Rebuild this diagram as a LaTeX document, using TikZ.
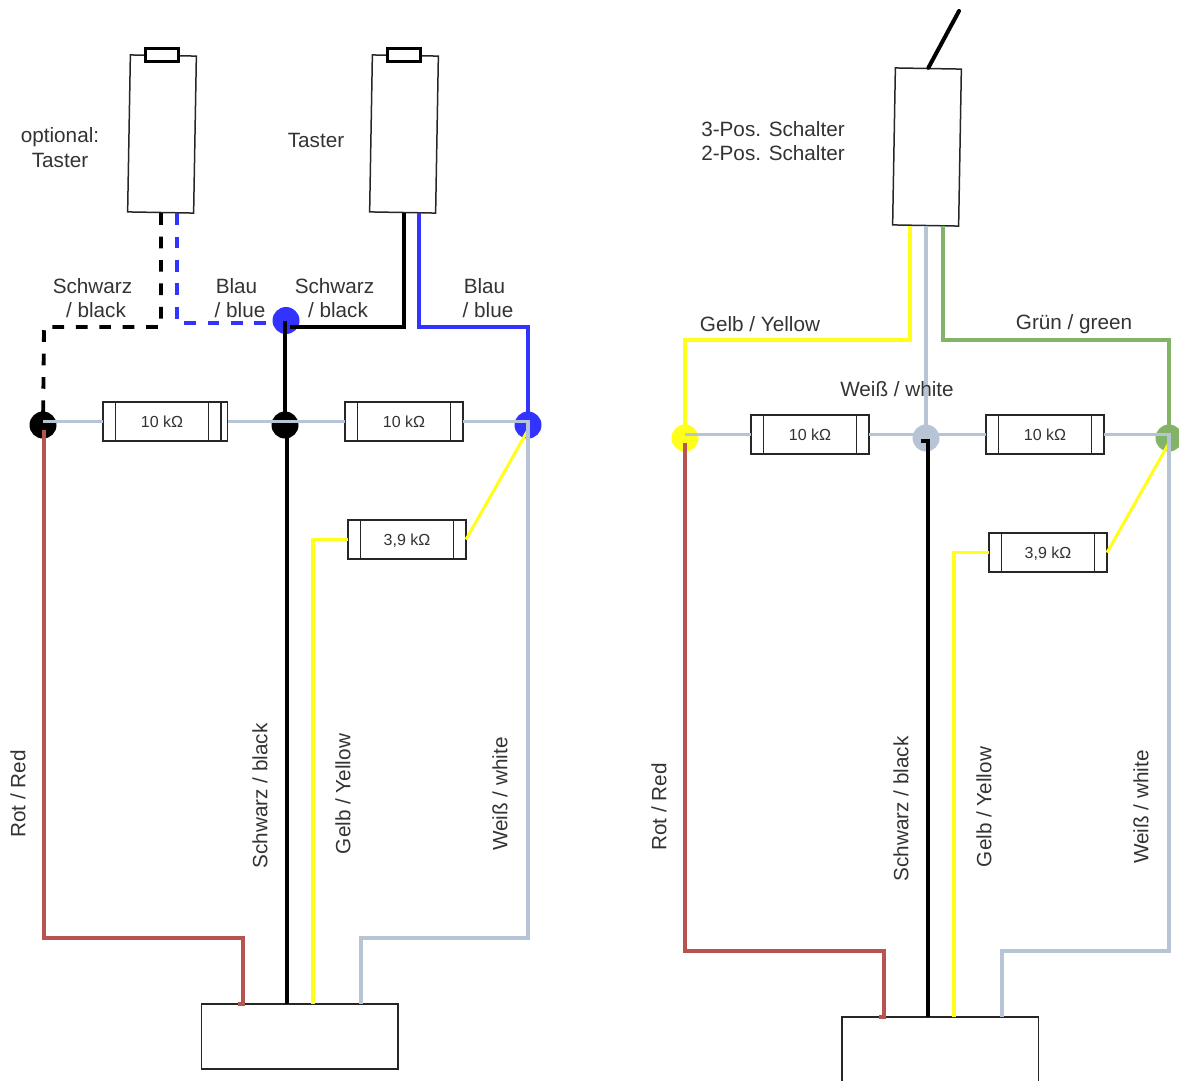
\documentclass[tikz,border=0pt]{standalone}
\usepackage{fontspec}
\setmainfont{Liberation Sans}
\definecolor{wiregray}{HTML}{B7C4D6}
\definecolor{wirered}{HTML}{B85450}
\definecolor{wireblue}{HTML}{3333FF}
\definecolor{wiregreen}{HTML}{82B366}
\definecolor{wireyellow}{HTML}{FFFF1A}
\definecolor{labeltext}{HTML}{333333}
\tikzset{
    wire/.style={line width=3.8pt, line join=miter},
    dashwire/.style={wire, dash pattern=on 11.7pt off 11.7pt},
    label/.style={text=labeltext, inner sep=0pt, align=center, font=\fontsize{20.7}{24.5}\selectfont},
    junction/.style={circle, inner sep=0pt, minimum size=27pt},
    switchbox/.style={draw=black!85, line width=1.5pt, fill=white, rotate=-1, minimum width=66pt, minimum height=157pt, inner sep=0pt},
    capbox/.style={draw=black, line width=2.2pt, fill=white, minimum width=33pt, minimum height=13pt, inner sep=0pt},
    plugbox/.style={draw=black!85, line width=1.5pt, fill=white, minimum width=196.5pt, minimum height=65pt, inner sep=0pt},
    resistor/.style={draw=black!85, line width=1.5pt, fill=white, minimum width=118pt, minimum height=39pt, inner sep=0pt, outer sep=0pt,
        text=labeltext, font=\fontsize{16}{18}\selectfont, text height=12.5pt, text depth=0pt,
        path picture={
            \draw[black!85, line width=1.5pt] ([xshift=12.5pt]path picture bounding box.north west) -- ([xshift=12.5pt]path picture bounding box.south west);
            \draw[black!85, line width=1.5pt] ([xshift=-12.5pt]path picture bounding box.north east) -- ([xshift=-12.5pt]path picture bounding box.south east);
        }},
}
\begin{document}
\begin{tikzpicture}[x=1pt, y=-1pt]
    \useasboundingbox (0,0) rectangle (1179,1080);

    % Left wiring
    \node[junction, fill=wireblue] (ja) at (286,320.5) {};
    \node[junction, fill=black] (jb) at (43,425) {};
    \node[junction, fill=black] (jc) at (285,425) {};
    \node[junction, fill=wireblue] (jd) at (528,425) {};

    \node[switchbox] (opt) at (162,134) {};
    \node[capbox] at (162,55) (optcap) {};
    \node[switchbox] (tast) at (404,134) {};
    \node[capbox] at (404,55) (tastcap) {};
    \node[plugbox] (plug) at (299.5,1036.5) {};

    \node[resistor] (ra) at (162,421.5) {10 kΩ};
    \node[resistor] (rb) at (404,421.5) {10 kΩ};
    \node[resistor] (rc) at (407,539.5) {3,9 kΩ};
    \draw[black!85, line width=1.5pt] (ra.north east) -- ++(6.5,0) -- ++(0,39) -- (ra.south east);

    \coordinate (redend) at (243,1004); \coordinate (gndend) at (287,1004);
    \coordinate (yelend) at (313,1004); \coordinate (whiend) at (361,1004);

    \draw[dashwire, black] (161,0 |- opt.south) -- (161,327) -- (44,327) -- (jb.center);
    \draw[dashwire, wireblue] (177,0 |- opt.south) -- (177,323) -- (ja.center |- 177,323);
    \draw[wire, black, line width=4pt] (jc.center |- ja.center) -- (jc.center);
    \draw[wire, black, line width=4pt] (ja.center) ++(4,6.5) -- (404,327) -- (404,0 |- tast.south);
    \draw[wire, wireblue] (419,0 |- tast.south) -- (419,327) -- (528,327) -- (jd.center);

    \draw[wire, wirered] (jb.center) ++(1,5) -- (44,938) -- (243,938) -- (redend) -- ++(-5,0);
    \draw[wire, black, line width=4pt] (287,438) -- (gndend);
    \draw[wire, wireyellow] (rc.west) -- (313,539.5) -- (yelend);
    \draw[wireyellow, line width=3pt] (rc.east) -- (528,430);

    \draw[wire, wiregray] (jb.center |- ra.west) -- (ra.west);
    \draw[wire, wiregray] ([xshift=6.5pt]ra.east) -- (rb.west);
    \draw[wire, wiregray] (rb.east) -- (jd.center |- rb.east) -- (528,938) -- (361,938) -- (whiend);

    \node[label] (laba) at (60,147.5) {optional:\\Taster};
    \node[label] (labb) at (316,140) {Taster};
    \node[label] (labc) at (96,298) {Schwarz\kern7pt\\/ black};
    \node[label] (labd) at (240,298) {Blau\kern7pt\\/ blue};
    \node[label] (labe) at (338,298) {Schwarz\kern7pt\\/ black};
    \node[label] (labf) at (488,298) {Blau\kern7pt\\/ blue};
    \node[label, rotate=90] (labg) at (18,794) {Rot / Red};
    \node[label, rotate=90] (labh) at (260,796) {Schwarz / black};
    \node[label, rotate=90] (labi) at (343,794) {Gelb / Yellow};
    \node[label, rotate=90] (labj) at (500,794) {Weiß / white};

    % Right wiring
    \node[junction, fill=wireyellow] (jp) at (685,438) {};
    \node[junction, fill=wiregray] (jq) at (926,438) {};
    \node[junction, fill=wiregreen] (jr) at (1169,438) {};

    \node[switchbox] (sw) at (927,147) {};
    \coordinate (levertop) at (959,11);
    \node[plugbox] (plugb) at (940,1049.5) {};

    \node[resistor] (rp) at (810,434.5) {10 kΩ};
    \node[resistor] (rq) at (1045,434.5) {10 kΩ};
    \node[resistor] (rr) at (1048,552.5) {3,9 kΩ};

    \coordinate (redendb) at (884,1017); \coordinate (gndendb) at (928,1017);
    \coordinate (yelendb) at (954,1017); \coordinate (whiendb) at (1002,1017);

    \draw[black, line width=4pt, line cap=round] (sw.north) -- (levertop);
    \draw[wire, wireyellow] (910,0 |- sw.south) -- (910,340) -- (685,340) -- (jp.center);
    \draw[wire, wiregreen] (943,0 |- sw.south) -- (943,340) -- (1169,340) -- (jr.center);
    \draw[wire, wiregray] (926,0 |- sw.south) -- (jq.center);

    \draw[wire, wirered] (jp.center) ++(0,5) -- (685,951) -- (884,951) -- (redendb) -- ++(-5,0);
    \draw[wire, black, line width=4pt] (921,441) -- (928,441) -- (gndendb);
    \draw[wire, wireyellow] (rr.west) -- (954,552.5) -- (yelendb);
    \draw[wireyellow, line width=3pt] (rr.east) -- (1169,443);

    \draw[wire, wiregray] (jp.center |- rp.west) -- (rp.west);
    \draw[wire, wiregray] (rp.east) -- (rq.west);
    \draw[wire, wiregray] (rq.east) -- (jr.center |- rq.east) -- (1169,951) -- (1002,951) -- (whiendb);

    \node[label] (labk) at (773,141) {3-Pos. Schalter\\2-Pos. Schalter};
    \node[label] (labl) at (760,324) {Gelb / Yellow};
    \node[label] (labm) at (1074,324) {Grün / green};
    \node[label] (labn) at (897,389) {Weiß / white};
    \node[label, rotate=90] (labo) at (659,807) {Rot / Red};
    \node[label, rotate=90] (labp) at (901,809) {Schwarz / black};
    \node[label, rotate=90] (labq) at (984,807) {Gelb / Yellow};
    \node[label, rotate=90] (labr) at (1141,807) {Weiß / white};
\end{tikzpicture}
\end{document}
